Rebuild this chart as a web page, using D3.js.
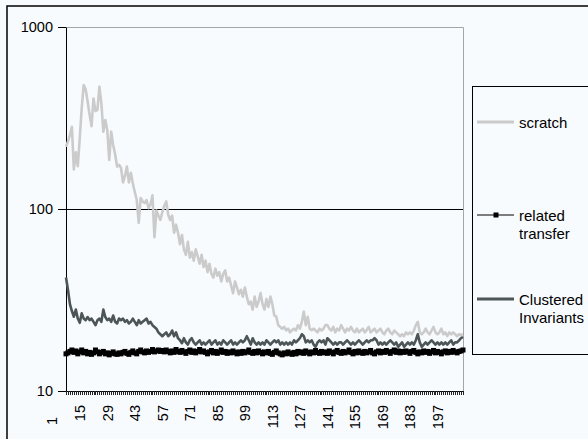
<!DOCTYPE html>
<html>
<head>
<meta charset="utf-8">
<script src="https://cdn.jsdelivr.net/npm/d3@7"></script>
<style>
  html, body { margin: 0; padding: 0; background: #f8fbfe; }
  svg { display: block; }
  text { font-family: "Liberation Sans", Arial, sans-serif; fill: #000; }
</style>
</head>
<body>
<svg id="chart" width="588" height="439"></svg>
<script>
// ---------- DATA ----------
const seriesNames = ["scratch", "related transfer", "Clustered Invariants"];

const scratch = [
  220, 235, 255, 283, 165, 205, 172, 245, 360, 480,
  455, 390, 330, 285, 405, 345, 350, 470, 380, 266,
  308, 272, 186, 266, 225, 200, 171, 175, 168, 140,
  152, 171, 140, 158, 138, 124, 112, 84, 115, 110,
  108, 112, 101, 106, 119, 70, 98, 92, 87, 96,
  104, 110, 93, 87, 92, 74, 82, 74, 64, 72,
  60, 56, 66, 54, 58, 52, 60, 55, 50, 56,
  48, 52, 45, 50, 44, 42, 47, 43, 45, 40,
  44, 46, 40, 42, 38, 34.5, 40, 37, 34, 36,
  33, 37, 33, 30, 31, 28, 33, 29, 31, 34.5,
  30, 28, 32, 29, 33, 30, 26, 25.6, 23, 22.5,
  22, 22.5, 21.5, 22, 21, 21.6, 22, 21.5, 23, 22,
  24, 27.3, 23, 25.6, 22, 21.6, 22, 21.5, 21, 22,
  21.5, 22, 23, 23, 22, 21.5, 22.5, 21, 22, 21.5,
  23, 22, 21, 22, 21.5, 22.5, 21.5, 21, 22, 21,
  21.5, 22, 21, 21.6, 22.5, 21, 21.5, 22, 21, 21.5,
  22, 21, 20.5, 21.5, 22, 21, 20.5, 21.5, 21, 20.5,
  20, 20.5, 20, 21, 20.5, 21, 20.5, 21.5, 23, 24,
  21, 20.5, 21, 22, 21, 20.5, 21.5, 22.5, 21, 20.5,
  21, 22, 20.5, 21, 20, 21, 20.5, 21, 20.5, 20,
  20.5, 20.3, 20.5
];

const relatedTransfer = [
  16, 16.2, 16.5, 16.8, 16.3, 16.6, 16, 16.4, 16.8, 16.2,
  16.5, 16, 16.3, 15.9, 16.2, 16.8, 16.4, 16, 16.3, 16.5,
  16, 16.2, 15.8, 16.1, 16.4, 16, 15.9, 16.2, 16, 16.3,
  16.5, 16.1, 15.9, 16.3, 16.6, 16.2, 16, 16.5, 16.8, 16.4,
  16.2, 16.6, 16.3, 16.5, 16.9, 16.4, 16.6, 16.8, 16.5, 16.7,
  16.4, 16.8, 16.5, 16.2, 16.6, 16.3, 16.9, 16.5, 16.3, 16.7,
  16.4, 16.1, 16.5, 16.8, 16.3, 16.6, 16.2, 16.5, 16.9, 16.4,
  16.6, 16.3, 16, 16.4, 16.7, 16.2, 16.5, 16.1, 16.4, 16.8,
  16.3, 16.5, 16.1, 16.4, 16.2, 16.6, 16.3, 16, 16.4, 16.1,
  16.5, 16.2, 16.4, 16.8, 16.3, 16.1, 16.5, 16.2, 16.6, 16.3,
  16, 16.4, 16.2, 16.5, 16.1, 15.9, 16.3, 16.6, 16.2, 16,
  15.8, 16.2, 16, 16.4, 16.1, 15.9, 16.3, 16, 16.5, 16.2,
  16.4, 16.1, 16.6, 16.3, 16, 16.4, 16.2, 16.7, 16.3, 16.1,
  16.5, 16.2, 16.4, 16.1, 16.6, 16.3, 16, 16.4, 16.7, 16.3,
  16.1, 16.5, 16.2, 16.4, 16.8, 16.3, 16, 16.5, 16.2, 16.6,
  16.3, 16.1, 16.5, 16.2, 16.4, 16.7, 16.2, 16, 16.4, 16.6,
  16.2, 16.5, 16.3, 16.7, 16.4, 16.1, 16.5, 16.8, 16.3, 16.6,
  16.2, 16.5, 16.3, 16.6, 16.4, 16.1, 16.5, 16.7, 16.3, 16,
  16.4, 16.2, 16.6, 16.3, 16.5, 16.1, 16.4, 16.7, 16.2, 16.5,
  16.3, 16, 16.4, 16.6, 16.2, 16.5, 16.3, 16.7, 16.4, 16.2,
  16.5, 16.6, 16.8
];

const clusteredInvariants = [
  42, 36, 30, 27.5, 25.6, 28, 25, 23.7, 26.7, 25,
  24.5, 25.5, 24.5, 25, 24, 23, 24.5, 25, 24, 28,
  25.5, 24.5, 25, 24, 26, 24, 23.5, 25, 24.5, 25,
  24, 24.5, 23.5, 24, 25, 24, 23, 24.5, 23.5, 24,
  24.5, 25, 23.5, 24, 23, 22.5, 22, 21, 20.5, 20,
  20.5, 21, 20, 20.5, 21.5, 20, 21, 19.5, 19, 18.3,
  19.5, 18.5, 18, 19, 19.5, 18.5, 18, 18.5, 19, 18,
  18.5, 18, 18.5, 19, 18, 18.5, 19, 18, 18.5, 18,
  19, 18.5, 18, 18.5, 19, 18, 18.5, 18, 18.5, 19,
  18.5, 19, 20, 19, 18, 19.5, 18.5, 18, 18.5, 18,
  18.5, 18, 19, 18.5, 18, 18.5, 19, 18.5, 19, 18,
  18.5, 18, 18.5, 18, 18.5, 18, 19, 18.5, 19, 19.5,
  20.5, 20, 18.5, 19, 18.5, 19, 18, 17.5, 18.5, 19,
  18.5, 19, 18, 19.5, 19, 18.5, 18, 18.5, 18, 18.5,
  18.5, 18, 18.5, 19, 18.5, 18, 18.5, 18, 18.5, 19,
  18.5, 18, 18.5, 19, 18.5, 19, 19, 19.5, 19, 18,
  18.5, 18, 18.5, 18, 18.5, 19, 18.5, 18, 18.5, 17.5,
  18, 18.5, 17.5, 18, 18.5, 18, 18.5, 18, 19, 20.5,
  18.5, 17.5, 18, 18.5, 18, 18.5, 19, 18.5, 18, 18.5,
  18, 18.5, 18, 18.5, 18, 18.5, 19, 18, 18.5, 18.5,
  19, 19.5, 19.8
];

const categories = scratch.map((_, i) => i + 1);
const xTickLabels = ["1","15","29","43","57","71","85","99","113","127","141","155","169","183","197"];
const yTickValues = [10, 100, 1000];

// ---------- LAYOUT ----------
const W = 588, H = 439;
const plot = { left: 66, right: 463, top: 27, bottom: 391 };
const bg = "#f8fbfe";
const colors = { scratch: "#cbcbcb", related: "#000000", clustered: "#4d5656" };
const svg = d3.select("#chart");

svg.append("rect").attr("x", 0).attr("y", 0).attr("width", W).attr("height", H).attr("fill", bg);
// outer chart frame (extends beyond the right and bottom edges)
svg.append("rect").attr("x", 7).attr("y", 6).attr("width", 620).attr("height", 460)
  .attr("fill", "none").attr("stroke", "#000").attr("stroke-width", 1.5);

const x = d3.scalePoint().domain(categories).range([plot.left, plot.right]);
const y = d3.scaleLog().domain([10, 1000]).range([plot.bottom, plot.top]);

// plot frame (top & right in gray)
svg.append("path")
  .attr("d", `M${plot.left},${plot.top + 0.5}H${plot.right + 0.5}V${plot.bottom}`)
  .attr("fill", "none").attr("stroke", "#a6a6a6").attr("stroke-width", 1);

// gridline at 100
svg.append("g").selectAll("line").data([100]).join("line")
  .attr("x1", plot.left).attr("x2", plot.right)
  .attr("y1", d => Math.round(y(d)) + 0.5).attr("y2", d => Math.round(y(d)) + 0.5)
  .attr("stroke", "#000").attr("stroke-width", 1);

// y axis
const yAxis = svg.append("g").attr("transform", `translate(${plot.left},0)`)
  .call(d3.axisLeft(y).tickValues(yTickValues).tickFormat(d3.format("d")).tickSize(8).tickSizeOuter(0).tickPadding(5));
yAxis.select(".domain").attr("stroke", "#000");
yAxis.selectAll(".tick line").attr("stroke", "#000");
yAxis.selectAll("text").style("font-size", "14.5px").attr("fill", "#000")
  .style("font-family", '"Liberation Sans", Arial, sans-serif');

// x axis (minor ticks at every category)
const xAxis = svg.append("g").attr("transform", `translate(0,${plot.bottom})`)
  .call(d3.axisBottom(x).tickValues(categories).tickFormat("").tickSize(4).tickSizeOuter(0));
xAxis.select(".domain").attr("stroke", "#000").attr("d", `M${plot.left},0.5H${plot.right}`);
xAxis.selectAll(".tick line").attr("stroke", "#222").attr("shape-rendering", "crispEdges");

// x tick labels (rotated)
const labelOffset = -13.6;
svg.append("g").selectAll("text").data(xTickLabels).join("text")
  .attr("transform", (d, i) => `translate(${x(+d) + labelOffset},${i === 0 ? 417 : 405}) rotate(-90)`)
  .attr("text-anchor", "end").attr("dy", "0.35em")
  .style("font-size", "14.5px")
  .text(d => d);

// series
const line = d3.line().x((d, i) => x(categories[i])).y(d => y(d));

svg.append("path").datum(scratch).attr("d", line)
  .attr("fill", "none").attr("stroke", colors.scratch).attr("stroke-width", 2.6)
  .attr("stroke-linejoin", "round");

svg.append("path").datum(relatedTransfer).attr("d", line)
  .attr("fill", "none").attr("stroke", colors.related).attr("stroke-width", 1.5);
svg.append("g").selectAll("rect").data(relatedTransfer).join("rect")
  .attr("x", (d, i) => x(categories[i]) - 2.5).attr("y", d => y(d) - 2.5)
  .attr("width", 5).attr("height", 5).attr("fill", colors.related);

svg.append("path").datum(clusteredInvariants).attr("d", line)
  .attr("fill", "none").attr("stroke", colors.clustered).attr("stroke-width", 2.6)
  .attr("stroke-linejoin", "round");

// legend
const lg = svg.append("g");
lg.append("rect").attr("x", 472.5).attr("y", 86.5).attr("width", 200).attr("height", 268)
  .attr("fill", bg).attr("stroke", "#000").attr("stroke-width", 1);

const legendItems = [
  { lines: ["scratch"], y: 122, color: colors.scratch, width: 3, marker: false },
  { lines: ["related", "transfer"], y: 215, color: colors.related, width: 1, marker: true },
  { lines: ["Clustered", "Invariants"], y: 299, color: colors.clustered, width: 3, marker: false }
];
legendItems.forEach(it => {
  lg.append("line").attr("x1", 477).attr("x2", 514).attr("y1", it.y).attr("y2", it.y)
    .attr("stroke", it.color).attr("stroke-width", it.width);
  if (it.marker) {
    lg.append("rect").attr("x", 496 - 2.5).attr("y", it.y - 2.5).attr("width", 5).attr("height", 5)
      .attr("fill", it.color);
  }
  it.lines.forEach((t, k) => {
    lg.append("text").attr("x", 519).attr("y", it.y + 1 + k * 17.5).attr("dy", "0.35em")
      .style("font-size", "15px").text(t);
  });
});
</script>
</body>
</html>
